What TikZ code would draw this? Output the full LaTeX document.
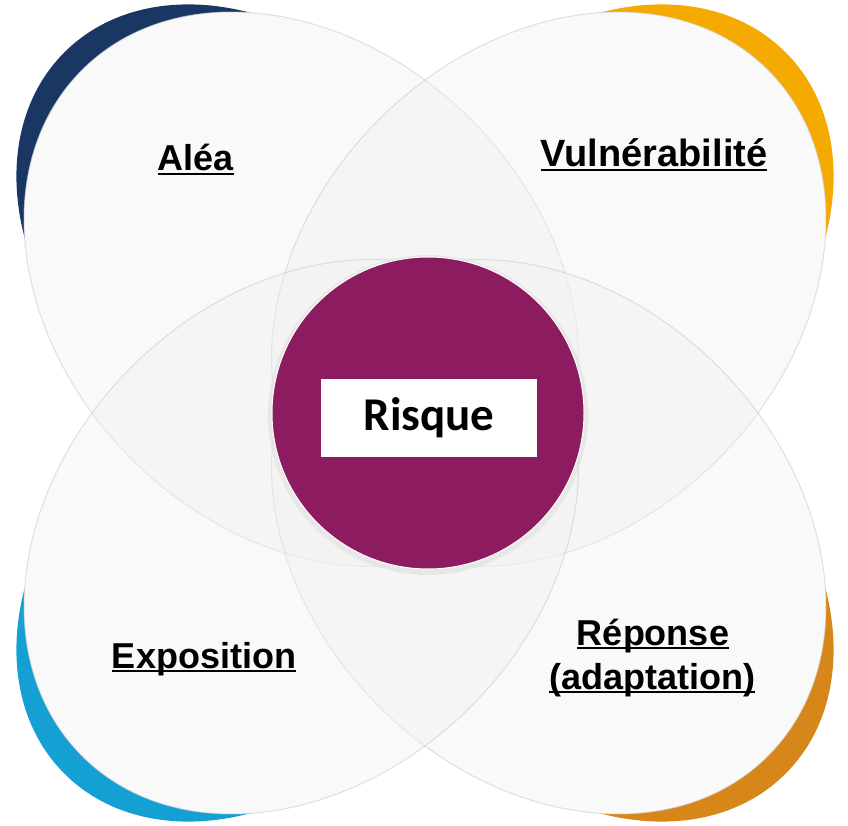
\documentclass[tikz,border=0pt]{standalone}
\usepackage{fontspec}
\usepackage{xcolor}
\usepackage{tikz}
\usetikzlibrary{positioning}
\newfontfamily\etiqfont{Liberation Sans}
\newfontfamily\risquefont{Carlito}
\definecolor{aleacol}{HTML}{1A3763}
\definecolor{vulncol}{HTML}{F4AA00}
\definecolor{expocol}{HTML}{14A0D2}
\definecolor{repcol}{HTML}{D78719}
\definecolor{risquecol}{HTML}{8C1B5F}
\newsavebox\soulbox
\newcommand\souligne[1]{\sbox\soulbox{#1}\rlap{\rule[-4pt]{\wd\soulbox}{2pt}}\usebox\soulbox}

\begin{document}
\begin{tikzpicture}[x=1pt,y=1pt,
  petale/.style={fill=gray!12, fill opacity=0.4, draw=gray!40, draw opacity=0.6, line width=1pt},
  etiquette/.style={font=\etiqfont\bfseries\fontsize{36}{44}\selectfont, anchor=base, inner sep=0pt}]
\useasboundingbox (0,0) rectangle (848,825);
\coordinate (C) at (425,412);
% croissants de couleur
\foreach \ang/\col in {135/aleacol,45/vulncol,225/expocol,315/repcol}
  \fill[\col, shift={(C)}, rotate=\ang] (249,0) ellipse [x radius=261, y radius=200];
% fond blanc des petales
\foreach \ang in {135,45,225,315}
  \fill[white, shift={(C)}, rotate=\ang] (175,0) ellipse [x radius=310, y radius=240];
% petales
\foreach \ang in {135,45,315,225}
  \path[petale, shift={(C)}, rotate=\ang] (175,0) ellipse [x radius=310, y radius=240];
% centre
\fill[gray!25, opacity=0.6] (428,410) circle [radius=160];
\node[circle, fill=risquecol, draw=white, line width=1pt, minimum size=312pt, inner sep=0pt] (cercle) at (428,412) {};
\node[fill=white, minimum width=216pt, minimum height=78pt, inner sep=0pt,
  font=\risquefont\bfseries\fontsize{47}{52}\selectfont] (risque) at (429,407) {Risque};
% etiquettes
\node[etiquette] (alea) at (196,654) {\souligne{Aléa}};
\node[etiquette, font=\etiqfont\bfseries\fontsize{38}{44}\selectfont] (vuln) at (654,658) {\souligne{Vulnérabilité}};
\node[etiquette] (expo) at (204,157) {\souligne{Exposition}};
\node[etiquette] (reponse) at (653,180) {\souligne{Réponse}};
\node[etiquette] (adapt) at (652,136) {\souligne{(adaptation)}};
\end{tikzpicture}
\end{document}
